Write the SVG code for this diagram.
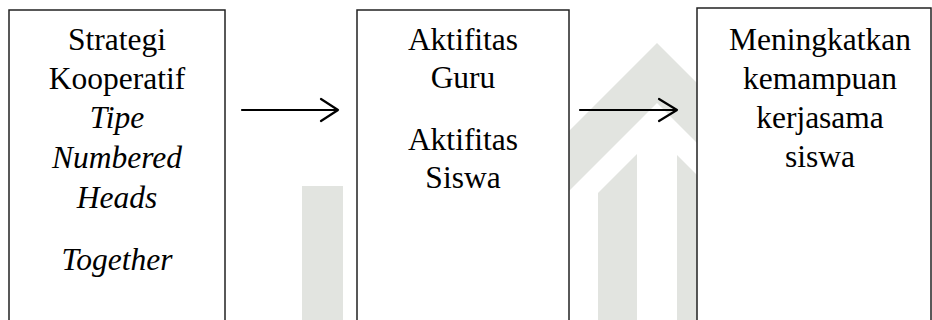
<svg xmlns="http://www.w3.org/2000/svg" width="932" height="320" viewBox="0 0 932 320">
<style>
.box{fill:#fff;stroke:#222;stroke-width:1.5}
.t{font-family:"Liberation Serif","Times New Roman",serif;font-size:31.5px;fill:#000;text-anchor:middle}
.i{font-style:italic}
.wm{fill:#e2e4e0}
.c{fill:none;stroke:#000;stroke-width:2.2;stroke-linecap:round;stroke-linejoin:round}
</style>
<rect width="932" height="320" fill="#fff"/>
<g id="watermark">
<rect class="wm" x="302" y="186" width="41" height="140"/>
<polygon class="wm" points="657,43 697,83 697,143 657,103 569,191 569,131"/>
<polygon class="wm" points="598,193 637,154 637,330 598,330"/>
<polygon class="wm" points="677,155 697,175 697,330 677,330"/>
</g>
<g id="node-strategi">
<rect class="box" x="9" y="10" width="216" height="330"/>
<text class="t" x="117" y="50">Strategi</text>
<text class="t" x="117" y="89">Kooperatif</text>
<text class="t i" x="117" y="128">Tipe</text>
<text class="t i" x="117" y="168">Numbered</text>
<text class="t i" x="117" y="208">Heads</text>
<text class="t i" x="117" y="270">Together</text>
</g>
<g id="node-aktifitas">
<rect class="box" x="357" y="10" width="212" height="330"/>
<text class="t" x="463" y="50">Aktifitas</text>
<text class="t" x="463" y="88">Guru</text>
<text class="t" x="463" y="150">Aktifitas</text>
<text class="t" x="463" y="188">Siswa</text>
</g>
<g id="node-meningkatkan">
<rect class="box" x="697" y="8" width="234" height="332"/>
<text class="t" x="820" y="50">Meningkatkan</text>
<text class="t" x="820" y="89">kemampuan</text>
<text class="t" x="820" y="128">kerjasama</text>
<text class="t" x="820" y="167">siswa</text>
</g>
<g id="connectors">
<path class="c" d="M242,110 H338 M321,99 L338,110 L321,121"/>
<path class="c" d="M580,110 H677 M659,99 L677,110 L659,121"/>
</g>
</svg>
